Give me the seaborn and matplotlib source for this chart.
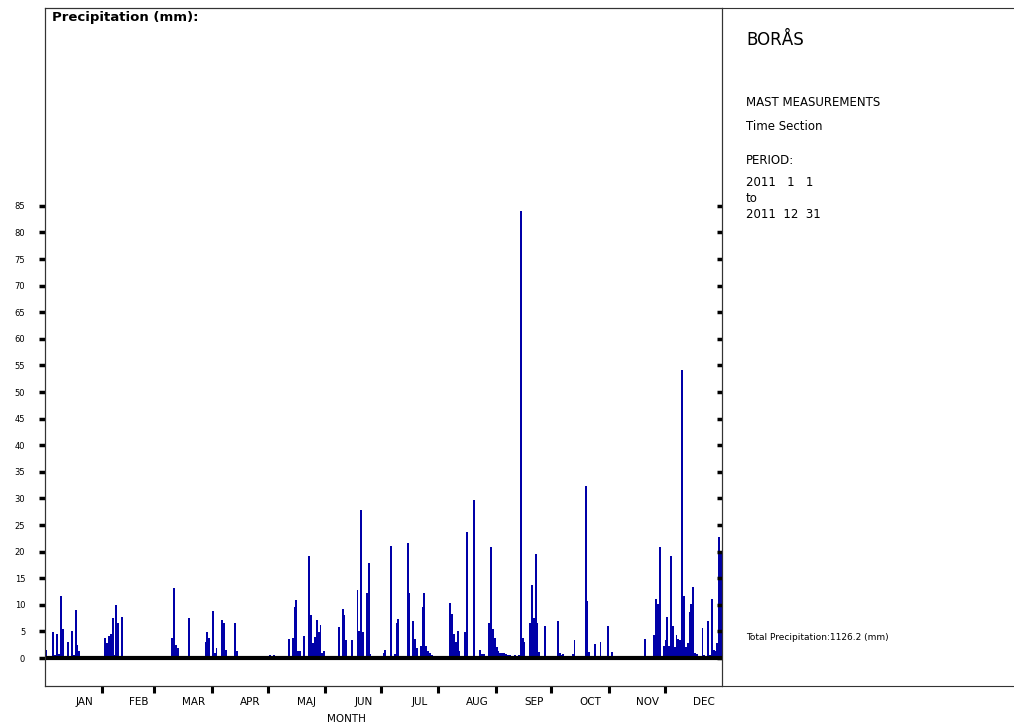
import numpy as np
import pandas as pd
import matplotlib
matplotlib.use("Agg")
import matplotlib.pyplot as plt
from matplotlib.lines import Line2D
import seaborn as sns

# -----------------------------
# Daily precipitation (mm), Borås 2011, one list per month
# -----------------------------
jan = [1.5, 0, 0, 0, 4.8, 0.5, 4.5, 0.8, 11.7, 5.4, 0, 0, 3.1, 0, 5.0, 0.5,
       9.0, 2.4, 1.3, 0, 0, 0, 0, 0, 0, 0, 0, 0, 0, 0, 0]
feb = [0, 3.8, 2.9, 4.1, 4.6, 7.6, 0.5, 9.9, 6.6, 0, 7.8, 0, 0, 0, 0, 0,
       0, 0, 0, 0, 0, 0, 0, 0, 0, 0, 0, 0]
mar = [0, 0, 0, 0, 0, 0, 0, 0, 0, 3.7, 13.2, 2.5, 1.8, 0, 0, 0,
       0, 0, 7.5, 0, 0, 0, 0, 0, 0, 0, 0, 3.1, 4.8, 3.7, 0]
apr = [8.8, 0.9, 1.8, 0.3, 0, 7.1, 6.5, 1.6, 0, 0, 0, 0, 6.5, 1.3, 0, 0,
       0, 0, 0, 0, 0, 0, 0, 0, 0, 0, 0, 0, 0, 0]
may = [0, 0.5, 0, 0.5, 0, 0, 0, 0, 0, 0, 0, 3.5, 0, 3.7, 9.5, 10.9,
       1.3, 1.3, 0, 4.1, 0, 0, 19.1, 8.1, 2.9, 3.9, 7.1, 4.8, 6.3, 0.9, 1.4]
jun = [0, 0, 0, 0, 0, 0, 0, 5.8, 0, 9.2, 8.1, 3.3, 0, 0, 3.3, 0,
       0, 12.8, 5.1, 27.9, 4.8, 0, 12.3, 17.8, 0.75, 0, 0, 0, 0, 0]
jul = [0, 0.9, 1.6, 0, 0, 21.0, 0, 0.7, 6.6, 7.3, 0, 0, 0, 0, 21.6, 12.3,
       0, 6.9, 3.5, 1.8, 0, 2.3, 9.6, 12.3, 2.3, 1.25, 0.9, 0.5, 0.3, 0, 0]
aug = [0, 0, 0, 0, 0, 0, 10.3, 8.3, 4.6, 3.1, 5.0, 1.3, 0, 0, 4.8, 23.7,
       0, 0, 0, 29.8, 0, 0, 1.6, 0.75, 0.75, 0, 0, 6.6, 20.8, 5.4, 3.7]
sep = [2.1, 1.3, 1.0, 0.9, 0.9, 0.7, 0.5, 0.6, 0.2, 0.2, 0.5, 0, 0.5, 84.0,
       3.8, 3.1, 0, 0, 6.6, 13.8, 7.6, 19.5, 6.6, 1.2, 0, 0, 6.1, 0, 0, 0]
okt = [0, 0, 0, 6.9, 0.9, 0.5, 0.75, 0.3, 0, 0, 0, 0.75, 3.3, 0, 0, 0,
       0, 0, 32.4, 10.7, 1.2, 0, 0, 2.7, 0, 0, 3.1, 0, 0, 0, 6.1]
nov = [0, 1.2, 0, 0, 0, 0, 0, 0, 0, 0, 0, 0, 0, 0, 0, 0,
       0, 0, 0, 3.5, 0, 0, 0, 0, 4.3, 11.1, 10.2, 20.8, 0, 2.3]
dec = [3.3, 7.7, 2.3, 19.1, 6.1, 2.1, 4.4, 3.5, 3.4, 54.2, 11.7, 2.1, 2.9,
       8.6, 10.1, 13.4, 1.0, 0.8, 0.3, 0, 5.6, 0.5, 0, 6.9, 0.5, 11.1, 1.6,
       1.4, 2.9, 22.7, 19.5]

month_names = ["JAN", "FEB", "MAR", "APR", "MAJ", "JUN",
               "JUL", "AUG", "SEP", "OCT", "NOV", "DEC"]
y_ticks = list(range(0, 90, 5))

info_lines = ["MAST MEASUREMENTS", "Time Section", "PERIOD:",
              "2011   1   1", "to", "2011  12  31"]
total_text = "Total Precipitation:1126.2 (mm)"

months = [jan, feb, mar, apr, may, jun, jul, aug, sep, okt, nov, dec]
precip = np.concatenate([np.array(m, dtype=float) for m in months])
lengths = [len(m) for m in months]
starts = np.cumsum([0] + lengths[:-1])

df = pd.DataFrame({"day": np.arange(len(precip)), "precip": precip})

# -----------------------------
# Figure
# -----------------------------
W, H = 1014, 726
sns.set_theme(style="white")
plt.rcParams["font.family"] = ["DejaVu Sans"]
plt.rcParams["text.color"] = "black"
plt.rcParams["xtick.color"] = "black"
plt.rcParams["ytick.color"] = "black"

fig = plt.figure(figsize=(W / 100, H / 100), dpi=100)
left, right, top, bottom = 45, 722, 8, 686
ax = fig.add_axes([left / W, 1 - bottom / H, (right - left) / W, (bottom - top) / H])

sns.barplot(data=df, x="day", y="precip", color="#0000A8", saturation=1,
            width=1.0, linewidth=0, ax=ax)

ax.set_xlim(-0.5, len(precip) - 0.5)
ax.set_ylim(-5.26, 122.2)
ax.axhline(0, color="black", lw=3, zorder=5)

# x ticks at month boundaries, month names beside them
ax.set_xticks(starts[1:] - 0.5)
ax.set_xticklabels([])
ax.tick_params(axis="x", bottom=True, direction="out", length=5, width=2.2,
               color="black")
for name, s, n in zip(month_names, starts, lengths):
    ax.text(s + n / 2 + 5.2, -16 / 678, name, transform=ax.get_xaxis_transform(),
            ha="center", va="center", fontsize=7.5, color="black")
ax.text(0.445, -33 / 678, "MONTH", transform=ax.transAxes, ha="center",
        va="center", fontsize=7.5, color="black")
ax.set_xlabel("")
ax.set_ylabel("")

# y ticks: outward on the left, inward on the right
ax.set_yticks(y_ticks)
ax.set_yticklabels([str(v) for v in y_ticks], fontsize=6, color="black")
ax.tick_params(axis="y", left=True, direction="out", length=4.3, width=2.5,
               color="black", pad=10)
ax2 = ax.twinx()
ax2.set_ylim(ax.get_ylim())
ax2.set_yticks(y_ticks)
ax2.set_yticklabels([])
ax2.tick_params(axis="y", right=True, direction="in", length=3.8, width=2.5,
                color="black")
for a in (ax, ax2):
    for sp in a.spines.values():
        sp.set_color("#333333")
        sp.set_linewidth(0.8)

ax.text(7 / 677, 1 - 10 / 678, "Precipitation (mm):", transform=ax.transAxes,
        ha="left", va="center", fontsize=9.5, fontweight="bold", color="black")

# frame of the right panel
for yy in (top, bottom):
    fig.add_artist(Line2D([right / W, 1.0], [1 - yy / H, 1 - yy / H],
                          color="#333333", lw=0.8))

fig.text(746 / W, 1 - 40 / H, "BORÅS", ha="left", va="center", fontsize=12,
         color="black")
for txt, yy in zip(info_lines, [103, 126, 160, 182, 199, 215]):
    fig.text(746 / W, 1 - yy / H, txt, ha="left", va="center", fontsize=8.5,
             color="black")
fig.text(746 / W, 1 - 638 / H, total_text, ha="left", va="center", fontsize=6.5,
         color="black")

fig.savefig("out.png", dpi=100)
